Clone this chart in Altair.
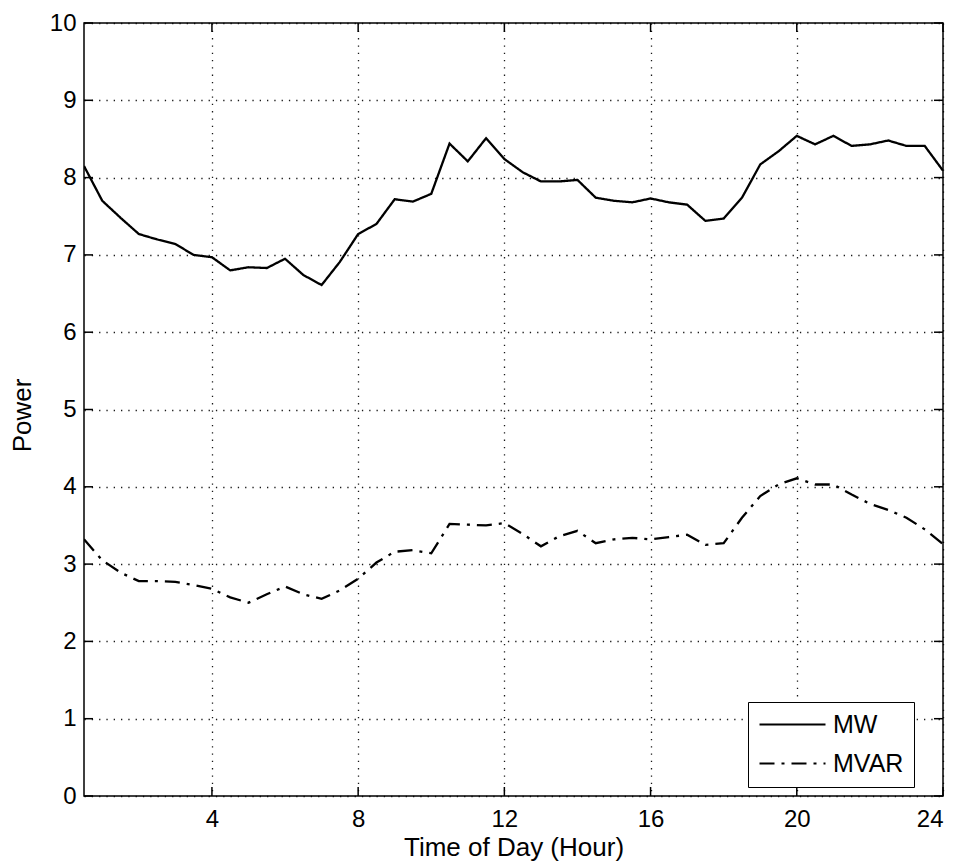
import altair as alt
import pandas as pd

hours = [0.5 * i for i in range(1, 49)]
mw = [8.15, 7.70, 7.48, 7.27, 7.20, 7.14, 7.00, 6.97, 6.80, 6.84, 6.83, 6.95,
      6.74, 6.61, 6.91, 7.27, 7.40, 7.72, 7.69, 7.79, 8.44, 8.21, 8.51, 8.24,
      8.07, 7.95, 7.95, 7.97, 7.74, 7.70, 7.68, 7.73, 7.68, 7.65, 7.44, 7.47,
      7.74, 8.17, 8.34, 8.54, 8.43, 8.54, 8.41, 8.43, 8.48, 8.41, 8.41, 8.09]
mvar = [3.32, 3.05, 2.89, 2.78, 2.78, 2.77, 2.73, 2.68, 2.57, 2.50, 2.61, 2.71,
        2.61, 2.55, 2.66, 2.81, 3.02, 3.16, 3.18, 3.14, 3.52, 3.51, 3.50, 3.53,
        3.39, 3.23, 3.36, 3.43, 3.27, 3.32, 3.34, 3.32, 3.35, 3.38, 3.25, 3.27,
        3.60, 3.88, 4.03, 4.11, 4.03, 4.03, 3.90, 3.78, 3.70, 3.60, 3.45, 3.26]
series_names = ["MW", "MVAR"]
x_ticks = [4, 8, 12, 16, 20, 24]
y_ticks = [0, 1, 2, 3, 4, 5, 6, 7, 8, 9, 10]

df = pd.DataFrame({
    "hour": hours * 2,
    "power": mw + mvar,
    "series": [series_names[0]] * len(hours) + [series_names[1]] * len(hours),
})
xt = pd.DataFrame({"t": x_ticks})
yt = pd.DataFrame({"t": y_ticks})

FONT = "Liberation Sans"
W, H = 859, 773
xscale = alt.Scale(domain=[0.5, 24], nice=False, zero=False)
yscale = alt.Scale(domain=[0, 10], nice=False)

x_axis = alt.Axis(values=x_ticks, title="Time of Day (Hour)", grid=True,
                  ticks=False, domain=False, labelPadding=11,
                  labelFontSize=24, titleFontSize=26,
                  titleY=59, titleBaseline="alphabetic",
                  titleFontWeight="normal")
y_axis = alt.Axis(values=y_ticks, title="Power", grid=True, ticks=False,
                  domain=False, labelPadding=8, labelFontSize=24,
                  titleFontSize=26, titleX=-54, titleY=392,
                  titleBaseline="alphabetic", titleFontWeight="normal")

lines = alt.Chart(df).mark_line(strokeWidth=2.3, color="black", clip=True).encode(
    x=alt.X("hour:Q", scale=xscale, axis=x_axis),
    y=alt.Y("power:Q", scale=yscale, axis=y_axis),
    strokeDash=alt.StrokeDash(
        "series:N",
        scale=alt.Scale(domain=series_names, range=[[1, 0], [15, 7, 3, 7]]),
        legend=alt.Legend(title=None, orient="none", legendX=664, legendY=679,
                          symbolType="M-1,0H5", symbolSize=484,
                          symbolStrokeWidth=2, symbolStrokeColor="black",
                          symbolFillColor="transparent",
                          labelFontSize=25, labelOffset=50, labelFont=FONT,
                          labelColor="black", padding=10, rowPadding=13,
                          strokeColor="black", fillColor="white"),
    ),
)

tick_style = dict(color="black", strokeWidth=1.5)
bottom = alt.Chart(xt).mark_rule(**tick_style).encode(
    x=alt.X("t:Q", scale=xscale, axis=x_axis), y=alt.value(H), y2=alt.value(H - 9))
top = alt.Chart(xt).mark_rule(**tick_style).encode(
    x=alt.X("t:Q", scale=xscale, axis=x_axis), y=alt.value(0), y2=alt.value(9))
left = alt.Chart(yt).mark_rule(**tick_style).encode(
    y=alt.Y("t:Q", scale=yscale, axis=y_axis), x=alt.value(0), x2=alt.value(9))
right = alt.Chart(yt).mark_rule(**tick_style).encode(
    y=alt.Y("t:Q", scale=yscale, axis=y_axis), x=alt.value(W), x2=alt.value(W - 9))

chart = alt.layer(lines, bottom, top, left, right).properties(
    width=W, height=H,
    autosize=alt.AutoSizeParams(type="none"),
    padding={"left": 76, "top": 15, "right": 9, "bottom": 70},
).configure(
    background="white"
).configure_view(
    stroke="black", strokeWidth=1.5
).configure_axis(
    labelFont=FONT, titleFont=FONT, labelColor="black", titleColor="black",
    gridColor="black", gridDash=[1.3, 6], gridWidth=1.3, gridOpacity=0.9,
)

chart.save("out.html", embed_options={"renderer": "svg", "actions": False})
